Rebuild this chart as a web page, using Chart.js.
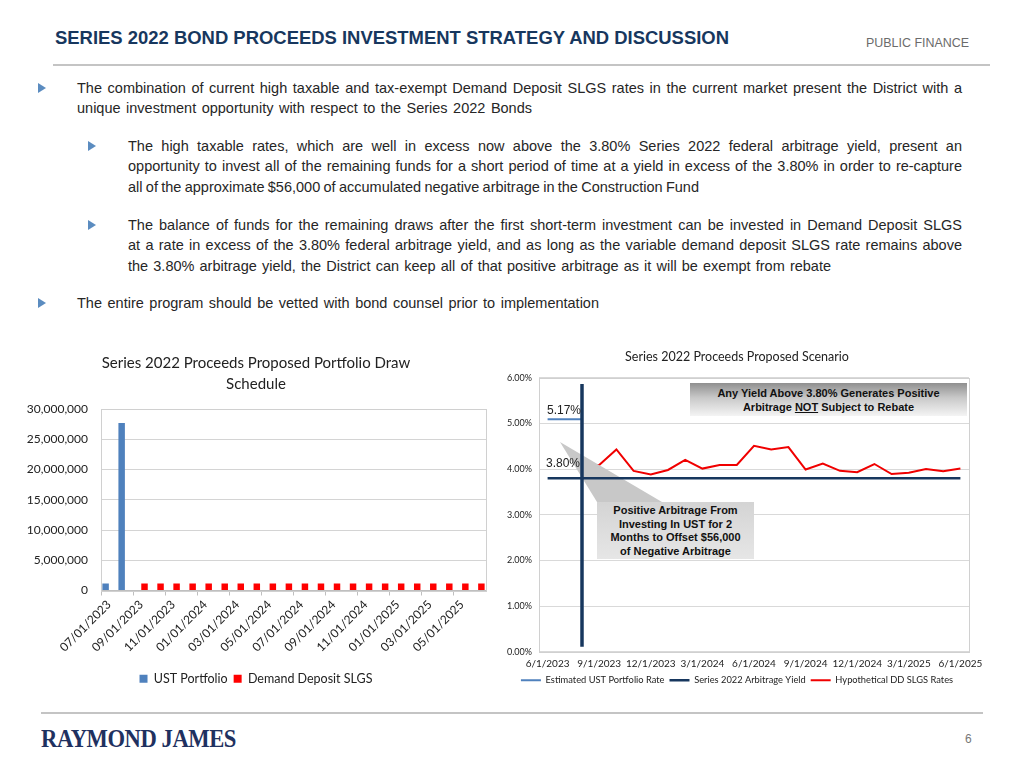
<!DOCTYPE html>
<html>
<head>
<meta charset="utf-8">
<script src="https://cdn.jsdelivr.net/npm/chart.js@4"></script>
<style>
  html, body { margin:0; padding:0; background:#fff; }
  body { width:1024px; height:768px; position:relative; overflow:hidden; font-family:"Liberation Sans", Arial, sans-serif; color:#262626; }
  .abs { position:absolute; white-space:nowrap; }
  .fit { display:inline-block; transform-origin:left center; }
  .rule { position:absolute; height:2px; background:#c4c4c4; }
  .tri { position:absolute; width:0; height:0; border-top:5px solid transparent; border-bottom:5px solid transparent; border-left:8px solid #5b8cc0; }
  .para { position:absolute; font-size:14.5px; line-height:20.5px; }
  .para div { white-space:nowrap; }
  canvas { position:absolute; }
  .callout { position:absolute; font-weight:bold; font-size:11px; color:#111; text-align:center; }
</style>
</head>
<body>
<div class="abs" style="left:55px; top:28px; font-size:17.5px; font-weight:bold; color:#17375e;"><span class="fit" data-w="674">SERIES 2022 BOND PROCEEDS INVESTMENT STRATEGY AND DISCUSSION</span></div>
<div class="abs" style="left:866px; top:36px; font-size:12.5px; color:#6b6b6b;"><span class="fit" data-w="103">PUBLIC FINANCE</span></div>
<div class="rule" style="left:53px; top:64px; width:937px;"></div>

<div class="tri" style="left:38px; top:83px;"></div>
<div class="para" style="left:77px; top:77.5px; width:885px;">
  <div data-lw="885">The combination of current high taxable and tax-exempt Demand Deposit SLGS rates in the current market present the District with a</div>
  <div data-lw="455">unique investment opportunity with respect to the Series 2022 Bonds</div>
</div>

<div class="tri" style="left:88px; top:141px;"></div>
<div class="para" style="left:128px; top:135.5px; width:834px;">
  <div data-lw="834">The high taxable rates, which are well in excess now above the 3.80% Series 2022 federal arbitrage yield, present an</div>
  <div data-lw="834">opportunity to invest all of the remaining funds for a short period of time at a yield in excess of the 3.80% in order to re-capture</div>
  <div data-lw="571">all of the approximate $56,000 of accumulated negative arbitrage in the Construction Fund</div>
</div>

<div class="tri" style="left:88px; top:220px;"></div>
<div class="para" style="left:128px; top:214.5px; width:834px;">
  <div data-lw="834">The balance of funds for the remaining draws after the first short-term investment can be invested in Demand Deposit SLGS</div>
  <div data-lw="834">at a rate in excess of the 3.80% federal arbitrage yield, and as long as the variable demand deposit SLGS rate remains above</div>
  <div data-lw="703">the 3.80% arbitrage yield, the District can keep all of that positive arbitrage as it will be exempt from rebate</div>
</div>

<div class="tri" style="left:38px; top:298px;"></div>
<div class="para" style="left:77px; top:292.5px; width:885px;">
  <div data-lw="522">The entire program should be vetted with bond counsel prior to implementation</div>
</div>

<canvas id="drawChart" width="474" height="350" style="left:26px; top:345px; width:474px; height:350px;"></canvas>
<canvas id="rateChart" width="487" height="350" style="left:495px; top:345px; width:487px; height:350px;"></canvas>

<div class="callout" style="left:690px; top:383px; width:277px; height:33px; line-height:14px; padding-top:3px; box-sizing:border-box; background:linear-gradient(to bottom, #8f8f8f 0%, #c9c9c9 45%, #f4f4f4 100%);">Any Yield Above 3.80% Generates Positive<br>Arbitrage <u>NOT</u> Subject to Rebate</div>
<div class="callout" style="left:597px; top:502px; width:157px; height:57px; line-height:13.5px; padding-top:2px; box-sizing:border-box; background:linear-gradient(to bottom, #d4d4d4, #e6e6e6);">Positive Arbitrage From<br>Investing In UST for 2<br>Months to Offset $56,000<br>of Negative Arbitrage</div>
<div class="abs" style="left:547px; top:403px; font-size:12px; color:#222;">5.17%</div>
<div class="abs" style="left:546px; top:456px; font-size:12px; color:#222;">3.80%</div>

<div class="rule" style="left:41px; top:712px; width:942px;"></div>
<div class="abs" style="left:41px; top:724px; font-family:'Liberation Serif', serif; font-weight:bold; font-size:26px; color:#1f3160; letter-spacing:-0.5px;"><span class="fit" data-w="195">RAYMOND JAMES</span></div>
<div class="abs" style="left:965px; top:732px; font-size:12px; color:#777;">6</div>

<script>
// ---------- Left chart data ----------
const drawMonths = ['07/01/2023','08/01/2023','09/01/2023','10/01/2023','11/01/2023','12/01/2023',
  '01/01/2024','02/01/2024','03/01/2024','04/01/2024','05/01/2024','06/01/2024',
  '07/01/2024','08/01/2024','09/01/2024','10/01/2024','11/01/2024','12/01/2024',
  '01/01/2025','02/01/2025','03/01/2025','04/01/2025','05/01/2025','06/01/2025'];
const ustPortfolio = [1150000, 27700000, null, null, null, null, null, null, null, null, null, null,
  null, null, null, null, null, null, null, null, null, null, null, null];
const ddSlgsDraws = [null, null, 1150000, 1150000, 1150000, 1150000, 1150000, 1150000, 1150000, 1150000, 1150000, 1150000,
  1150000, 1150000, 1150000, 1150000, 1150000, 1150000, 1150000, 1150000, 1150000, 1150000, 1150000, 1150000];
const drawTicks = [0, 5000000, 10000000, 15000000, 20000000, 25000000, 30000000];

// ---------- Right chart data ----------
const rateMonths = ['6/1/2023','7/1/2023','8/1/2023','9/1/2023','10/1/2023','11/1/2023','12/1/2023',
  '1/1/2024','2/1/2024','3/1/2024','4/1/2024','5/1/2024','6/1/2024','7/1/2024','8/1/2024','9/1/2024',
  '10/1/2024','11/1/2024','12/1/2024','1/1/2025','2/1/2025','3/1/2025','4/1/2025','5/1/2025','6/1/2025'];
const ustRate = [5.09, 5.09, 5.09, null, null, null, null, null, null, null, null, null, null,
  null, null, null, null, null, null, null, null, null, null, null, null];
const arbitrageYield = [3.80, 3.80, 3.80, 3.80, 3.80, 3.80, 3.80, 3.80, 3.80, 3.80, 3.80, 3.80, 3.80,
  3.80, 3.80, 3.80, 3.80, 3.80, 3.80, 3.80, 3.80, 3.80, 3.80, 3.80, 3.80];
const ddSlgsRate = [null, null, 4.09, 4.09, 4.43, 3.96, 3.88, 3.98, 4.20, 4.01, 4.09, 4.09, 4.51,
  4.43, 4.48, 3.99, 4.12, 3.96, 3.93, 4.11, 3.89, 3.92, 4.00, 3.95, 4.01];
const markerDate = '8/1/2023';
const markerTop = 5.86;
const markerBottom = 0.11;
const rateTicks = [0, 1, 2, 3, 4, 5, 6];

const plotBorder = {
  id: 'plotBorder',
  beforeDatasetsDraw(chart, args, opts) {
    const {left, top, right, bottom} = chart.chartArea;
    const ctx = chart.ctx;
    ctx.save();
    ctx.strokeStyle = opts.color || '#d0d0d0';
    ctx.lineWidth = 1;
    ctx.strokeRect(Math.round(left) + 0.5, Math.round(top) + 0.5, Math.round(right - left), Math.round(bottom - top));
    ctx.restore();
  }
};

const calloutPointer = {
  id: 'calloutPointer',
  afterDatasetDraw(chart, args, opts) {
    if (args.index !== opts.datasetIndex) return;
    const ctx = chart.ctx;
    ctx.save();
    ctx.fillStyle = '#c8c8c8';
    ctx.beginPath();
    ctx.moveTo(65, 97);
    ctx.lineTo(102, 157);
    ctx.lineTo(167, 157);
    ctx.closePath();
    ctx.fill();
    ctx.restore();
  }
};

const calibri = 'Lato, "Open Sans", sans-serif';

new Chart(document.getElementById('drawChart'), {
  type: 'bar',
  data: {
    labels: drawMonths,
    datasets: [
      { label: 'UST Portfolio', data: ustPortfolio, backgroundColor: '#4f81bd', categoryPercentage: 0.85, barPercentage: 0.95 },
      { label: 'Demand Deposit SLGS', data: ddSlgsDraws, backgroundColor: '#ff0000', categoryPercentage: 0.85, barPercentage: 0.95 }
    ]
  },
  plugins: [plotBorder],
  options: {
    responsive: false, animation: false,
    layout: { padding: { left: 0, right: 14, top: 0, bottom: 0 } },
    plugins: {
      plotBorder: { color: '#d0d0d0' },
      tooltip: { enabled: false },
      title: { display: true, text: ['Series 2022 Proceeds Proposed Portfolio Draw', 'Schedule'], color: '#222',
        font: { family: calibri, size: 15, weight: 'normal', lineHeight: 1.4 }, padding: { top: 7.5, bottom: 14.5 } },
      legend: { position: 'bottom', labels: { boxWidth: 8, boxHeight: 8, color: '#222', padding: 6,
        font: { family: calibri, size: 12.5 } } }
    },
    scales: {
      x: {
        ticks: { autoSkip: false, maxRotation: 45, minRotation: 45, color: '#222', padding: 2,
          font: { family: calibri, size: 12 },
          callback: (v, i) => (i % 2 === 0 ? drawMonths[i] : '') },
        grid: { offset: true, drawOnChartArea: false, tickLength: 5,
          color: ctx => (ctx.index % 2 === 0 ? '#bfbfbf' : 'rgba(0,0,0,0)') },
        border: { color: '#bfbfbf' },
        afterFit: s => { s.height = 76; }
      },
      y: {
        min: 0, max: 30000000,
        afterBuildTicks: s => { s.ticks = drawTicks.map(v => ({ value: v })); },
        ticks: { color: '#222', padding: 13, font: { family: calibri, size: 12 },
          callback: v => Number(v).toLocaleString('en-US') },
        grid: { color: '#d4d4d4', drawTicks: false },
        border: { color: '#bfbfbf' },
        afterFit: s => { s.width = 75; }
      }
    }
  }
});

new Chart(document.getElementById('rateChart'), {
  type: 'line',
  data: {
    labels: rateMonths,
    datasets: [
      { label: 'Estimated UST Portfolio Rate', data: ustRate, borderColor: '#4f81bd', backgroundColor: '#4f81bd', borderWidth: 2, pointRadius: 0, order: 0 },
      { label: 'Series 2022 Arbitrage Yield', data: arbitrageYield, borderColor: '#17375e', backgroundColor: '#17375e', borderWidth: 2.5, pointRadius: 0, order: 0 },
      { label: 'Hypothetical DD SLGS Rates', data: ddSlgsRate, borderColor: '#f00000', backgroundColor: '#f00000', borderWidth: 2, pointRadius: 0, order: 0 },
      { label: '', data: [{ x: markerDate, y: markerTop }, { x: markerDate, y: markerBottom }], borderColor: '#17375e', borderWidth: 3.5, pointRadius: 0, order: -1 }
    ]
  },
  plugins: [plotBorder, calloutPointer],
  options: {
    responsive: false, animation: false,
    layout: { padding: { left: 10, right: 13, top: 0, bottom: 0 } },
    plugins: {
      plotBorder: { color: '#d0d0d0' },
      calloutPointer: { datasetIndex: 2 },
      tooltip: { enabled: false },
      title: { display: true, text: 'Series 2022 Proceeds Proposed Scenario', color: '#222',
        font: { family: calibri, size: 12.5, weight: 'normal', lineHeight: 1.2 }, padding: { top: 4.5, bottom: 13.2 } },
      legend: { position: 'bottom',
        labels: { usePointStyle: true, pointStyle: 'line', pointStyleWidth: 20, boxHeight: 9, color: '#222', padding: 5,
          font: { family: calibri, size: 9.3 },
          filter: item => item.text !== '' } }
    },
    scales: {
      x: {
        offset: true,
        ticks: { autoSkip: false, maxRotation: 0, minRotation: 0, color: '#222', padding: 6,
          font: { family: calibri, size: 10 },
          callback: (v, i) => (i % 3 === 0 ? rateMonths[i] : '') },
        grid: { display: false, drawTicks: false },
        border: { display: false },
        afterFit: s => { s.height = 19; s.paddingLeft = 0; s.paddingRight = 13; }
      },
      y: {
        min: 0, max: 6,
        afterBuildTicks: s => { s.ticks = rateTicks.map(v => ({ value: v })); },
        ticks: { color: '#222', padding: 7, font: { family: calibri, size: 9 },
          callback: v => Number(v).toFixed(2) + '%' },
        grid: { color: '#d9d9d9', drawTicks: false },
        border: { display: false },
        afterFit: s => { s.width = 34; }
      }
    }
  }
});

document.querySelectorAll('.fit').forEach(el => {
  const w = parseFloat(el.dataset.w);
  const s = w / el.getBoundingClientRect().width;
  el.style.transform = 'scaleX(' + s + ')';
});
document.querySelectorAll('.para div[data-lw]').forEach(div => {
  const target = parseFloat(div.dataset.lw);
  const text = div.textContent.trim();
  div.textContent = '';
  const span = document.createElement('span');
  span.textContent = text;
  div.appendChild(span);
  const natural = span.getBoundingClientRect().width;
  const spaces = (text.match(/ /g) || []).length;
  if (spaces > 0) span.style.wordSpacing = ((target - natural) / spaces) + 'px';
});
</script>
</body>
</html>
